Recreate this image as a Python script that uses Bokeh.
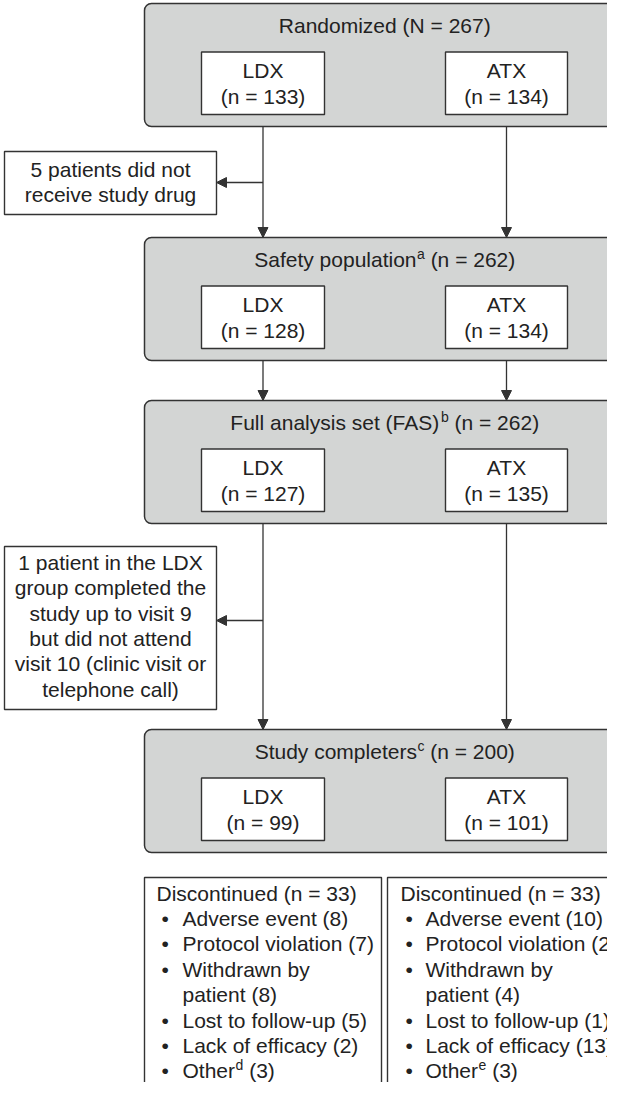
from bokeh.plotting import figure
from bokeh.models import Range1d, Arrow, NormalHead
from bokeh.core.properties import value
from bokeh.embed import file_html
from bokeh.resources import INLINE

# ---------------- data ----------------
stages = ["Randomized", "Safety population", "Full analysis set (FAS)", "Study completers"]
stage_sup = ["", "a", "b", "c"]
stage_nsym = ["N", "n", "n", "n"]
stage_totals = [267, 262, 262, 200]
arms = ["LDX", "ATX"]
ldx_n = [133, 128, 127, 99]
atx_n = [134, 134, 135, 101]
note1_lines = ["5 patients did not", "receive study drug"]
note2_lines = ["1 patient in the LDX", "group completed the", "study up to visit 9",
               "but did not attend", "visit 10 (clinic visit or", "telephone call)"]
disc_reasons = ["Adverse event", "Protocol violation", "Withdrawn by patient",
                "Lost to follow-up", "Lack of efficacy", "Other"]
disc_sup = ["", "", "", "", "", "d"]
disc_sup_atx = ["", "", "", "", "", "e"]
ldx_disc = [8, 7, 8, 5, 2, 3]
atx_disc = [10, 2, 4, 1, 13, 3]

# ---------------- style / layout ----------------
FONT = value("Liberation Sans")
FS = 21
FS_SUP = 14
TXT = "#222222"
LINE = "#333333"
GRAY = "#d3d5d4"

W = {' ': 278, '(': 333, ')': 333, '=': 584, '-': 333, '.': 278, '\u2022': 350,
     'a': 556, 'b': 556, 'c': 500, 'd': 556, 'e': 556, 'f': 278, 'g': 556, 'h': 556,
     'i': 222, 'j': 222, 'k': 500, 'l': 222, 'm': 833, 'n': 556, 'o': 556, 'p': 556,
     'q': 556, 'r': 333, 's': 500, 't': 278, 'u': 556, 'v': 500, 'w': 722, 'x': 500,
     'y': 500, 'z': 500, 'A': 667, 'D': 722, 'F': 611, 'L': 556, 'N': 722, 'O': 778,
     'P': 667, 'R': 722, 'S': 667, 'T': 611, 'W': 944, 'X': 667}


def tw(s, fs):
    return sum(W.get(c, 556) for c in s) * fs / 1000.0


p = figure(width=607, height=1082, x_range=Range1d(8, 615), y_range=Range1d(1090, 8),
           output_backend="svg", toolbar_location=None, min_border=0)
p.axis.visible = False
p.grid.visible = False
p.outline_line_color = None
p.background_fill_color = "white"
p.border_fill_color = "white"

stage_top = [11, 245, 408, 737]
stage_h = 123
box_l, box_r = 152, 645
arm_x = [(209, 332), (453, 575)]
arm_cx = [(a + b) / 2 for a, b in arm_x]
title_cx = sum(arm_cx) / 2

# gray stage boxes
p.quad(left=[box_l] * 4, right=[box_r] * 4, top=stage_top,
       bottom=[t + stage_h for t in stage_top], fill_color=GRAY,
       line_color=LINE, line_width=1.5, border_radius=7)

# inner white boxes
il, ir, itp, ib = [], [], [], []
for t in stage_top:
    for a, b in arm_x:
        il.append(a); ir.append(b); itp.append(t + 48.5); ib.append(t + 111)
p.quad(left=il, right=ir, top=itp, bottom=ib, fill_color="white",
       line_color=LINE, line_width=1.4)

cx_, cy_, ct_ = [], [], []          # centered main
lx_, ly_, lt_ = [], [], []          # left aligned main
sx_, sy_, st_ = [], [], []          # left aligned superscripts


def sup_run(x0, y, main, sup, rest):
    """main text + superscript + ' ' + rest, starting at x0 (left)."""
    lx_.append(x0); ly_.append(y); lt_.append(main)
    xs = x0 + tw(main, FS) + 0.5
    sx_.append(xs); sy_.append(y - 6); st_.append(sup)
    xr = xs + tw(sup, FS_SUP) + tw(" ", FS)
    lx_.append(xr); ly_.append(y); lt_.append(rest)


for i, t in enumerate(stage_top):
    main = stages[i]
    rest = "(%s = %d)" % (stage_nsym[i], stage_totals[i])
    ty = t + 22
    if stage_sup[i]:
        total = tw(main, FS) + 0.5 + tw(stage_sup[i], FS_SUP) + tw(" ", FS) + tw(rest, FS)
        sup_run(title_cx - total / 2, ty, main, stage_sup[i], rest)
    else:
        cx_.append(title_cx); cy_.append(ty); ct_.append(main + " " + rest)
    for j, counts in enumerate([ldx_n, atx_n]):
        cx_.append(arm_cx[j]); cy_.append(t + 66.5); ct_.append(arms[j])
        cx_.append(arm_cx[j]); cy_.append(t + 92.5); ct_.append("(n = %d)" % counts[i])


def arrow(x0, y0, x1, y1):
    p.add_layout(Arrow(end=NormalHead(size=10, fill_color=LINE, line_color=LINE, line_width=1),
                       x_start=x0, y_start=y0, x_end=x1, y_end=y1,
                       line_color=LINE, line_width=1.3))


for k in range(3):
    for cx in arm_cx:
        arrow(cx, stage_top[k] + stage_h, cx, stage_top[k + 1])

# side notes
note_l, note_r = 12, 224
note_cx = (note_l + note_r) / 2
notes = [(159, 222, 177, 190, note1_lines), (554, 717, 570, 628, note2_lines)]
for top, bot, first, ay, lines in notes:
    p.quad(left=[note_l], right=[note_r], top=[top], bottom=[bot], fill_color="white",
           line_color=LINE, line_width=1.4)
    for k, s in enumerate(lines):
        cx_.append(note_cx); cy_.append(first + k * 25.3); ct_.append(s)
    arrow(arm_cx[0], ay, note_r, ay)

# discontinued boxes
disc_top = 885
disc_cols = [(152, 389, 164, 169, 190, ldx_disc, disc_sup),
             (395, 700, 408, 413, 433, atx_disc, disc_sup_atx)]
LS = 25.4
WRAP = 196
for bl, br, hx, bx, tx, counts, sups in disc_cols:
    p.quad(left=[bl], right=[br], top=[disc_top], bottom=[1110], fill_color="white",
           line_color=LINE, line_width=1.4)
    y = 900.5
    lx_.append(hx); ly_.append(y); lt_.append("Discontinued (n = %d)" % sum(counts))
    for reason, c, sp in zip(disc_reasons, counts, sups):
        y += LS
        lx_.append(bx); ly_.append(y); lt_.append("\u2022")
        if sp:
            sup_run(tx, y, reason, sp, "(%d)" % c)
            continue
        full = "%s (%d)" % (reason, c)
        line = ""
        out = []
        for w_ in full.split(" "):
            cand = (line + " " + w_).strip()
            if tw(cand, FS) > WRAP and line:
                out.append(line)
                line = w_
            else:
                line = cand
        out.append(line)
        for k, s in enumerate(out):
            if k:
                y += LS
            lx_.append(tx); ly_.append(y); lt_.append(s)

common = dict(text_font=FONT, text_color=TXT, text_baseline="middle")
p.text(x=cx_, y=cy_, text=ct_, text_align="center", text_font_size=value("%dpx" % FS), **common)
p.text(x=lx_, y=ly_, text=lt_, text_align="left", text_font_size=value("%dpx" % FS), **common)
p.text(x=sx_, y=sy_, text=st_, text_align="left", text_font_size=value("%dpx" % FS_SUP), **common)

open("out.html", "w").write(file_html(p, INLINE))
